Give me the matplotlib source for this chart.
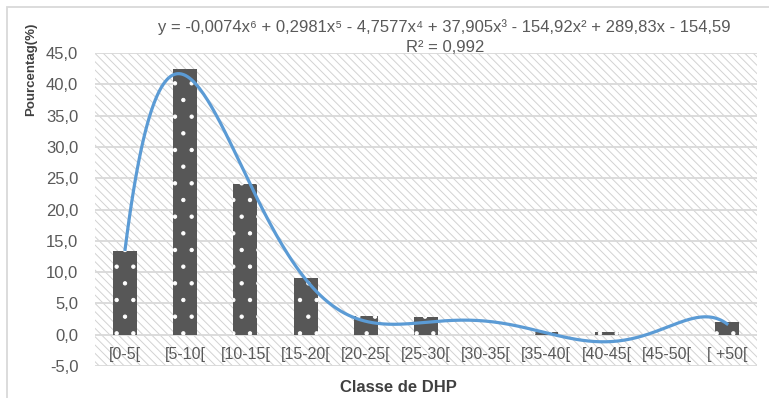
import numpy as np
import matplotlib
matplotlib.use('Agg')
import matplotlib.pyplot as plt
from matplotlib.patches import Rectangle

plt.rcParams['font.family'] = ['Liberation Sans', 'DejaVu Sans']
plt.rcParams['hatch.linewidth'] = 0.7

# données
classes = ['[0-5[', '[5-10[', '[10-15[', '[15-20[', '[20-25[', '[25-30[',
           '[30-35[', '[35-40[', '[40-45[', '[45-50[', '[ +50[']
pourcentages = [13.4, 42.5, 24.1, 9.0, 3.0, 2.9, 0.0, 0.5, 0.5, 0.0, 2.0]
yticks = [-5, 0, 5, 10, 15, 20, 25, 30, 35, 40, 45]
equation = ('y = -0,0074x\u2076 + 0,2981x\u2075 - 4,7577x\u2074 + 37,905x\u00b3 '
            '- 154,92x\u00b2 + 289,83x - 154,59')
r2_text = 'R\u00b2 = 0,992'

GREY_TXT = '#595959'
GRID = '#d9d9d9'

fig = plt.figure(figsize=(7.69, 3.98), dpi=100)
ax = fig.add_axes([95 / 769, 1 - 366 / 398, 662 / 769, 313 / 398])

# fond hachuré de la zone de tracé
ax.add_patch(Rectangle((0, 0), 1, 1, transform=ax.transAxes, facecolor='white',
                       edgecolor='#d2d2d2', hatch='\\\\\\\\', lw=0, zorder=0))

x = np.arange(len(classes))
ax.bar(x, pourcentages, width=0.4, color='#575757', edgecolor='white',
       hatch='.', linewidth=0, zorder=2)

# courbe de tendance polynomiale (ordre 6), ajustée comme dans Excel sur x = 1..11
xe = x + 1
coefs = np.polyfit(xe, pourcentages, 6)
xs = np.linspace(1, len(classes), 300)
ax.plot(xs - 1, np.polyval(coefs, xs), color='#5b9bd5', lw=2.3, zorder=3)

ax.set_xlim(-0.5, len(classes) - 0.5)
ax.set_ylim(-5, 45)
ax.set_yticks(yticks)
ax.set_yticklabels([f'{v:.1f}'.replace('.', ',') for v in yticks])
ax.set_xticks(x)
ax.set_xticklabels(classes)
ax.grid(True, axis='y', color=GRID, lw=1.3)
ax.set_axisbelow(True)
ax.spines['bottom'].set_position(('data', 0))
for s in ax.spines.values():
    s.set_color('none')
ax.tick_params(axis='y', length=0, pad=12, labelsize=12, labelcolor=GREY_TXT)
ax.tick_params(axis='x', length=0, pad=9, labelsize=11.5, labelcolor=GREY_TXT)

ax.set_ylabel('Pourcentag(%)', fontsize=9.5, fontweight='bold', color='#404040')
ax.yaxis.set_label_coords(-0.088, 0.947)
fig.text(398 / 769, 1 - 387 / 398, 'Classe de DHP', fontsize=12, fontweight='bold',
         color='#404040', ha='center', va='center')

fig.text(444 / 769, 1 - 27 / 398, equation, fontsize=12, color=GREY_TXT,
         ha='center', va='center')
fig.text(445 / 769, 1 - 47 / 398, r2_text, fontsize=12, color=GREY_TXT,
         ha='center', va='center')

# cadre du graphique
fig.patches.append(Rectangle((7 / 769, -0.1), 1.2, 1.1 - 7 / 398,
                             transform=fig.transFigure, fill=False,
                             edgecolor=GRID, lw=1.3))

fig.savefig('out.png', dpi=100)
